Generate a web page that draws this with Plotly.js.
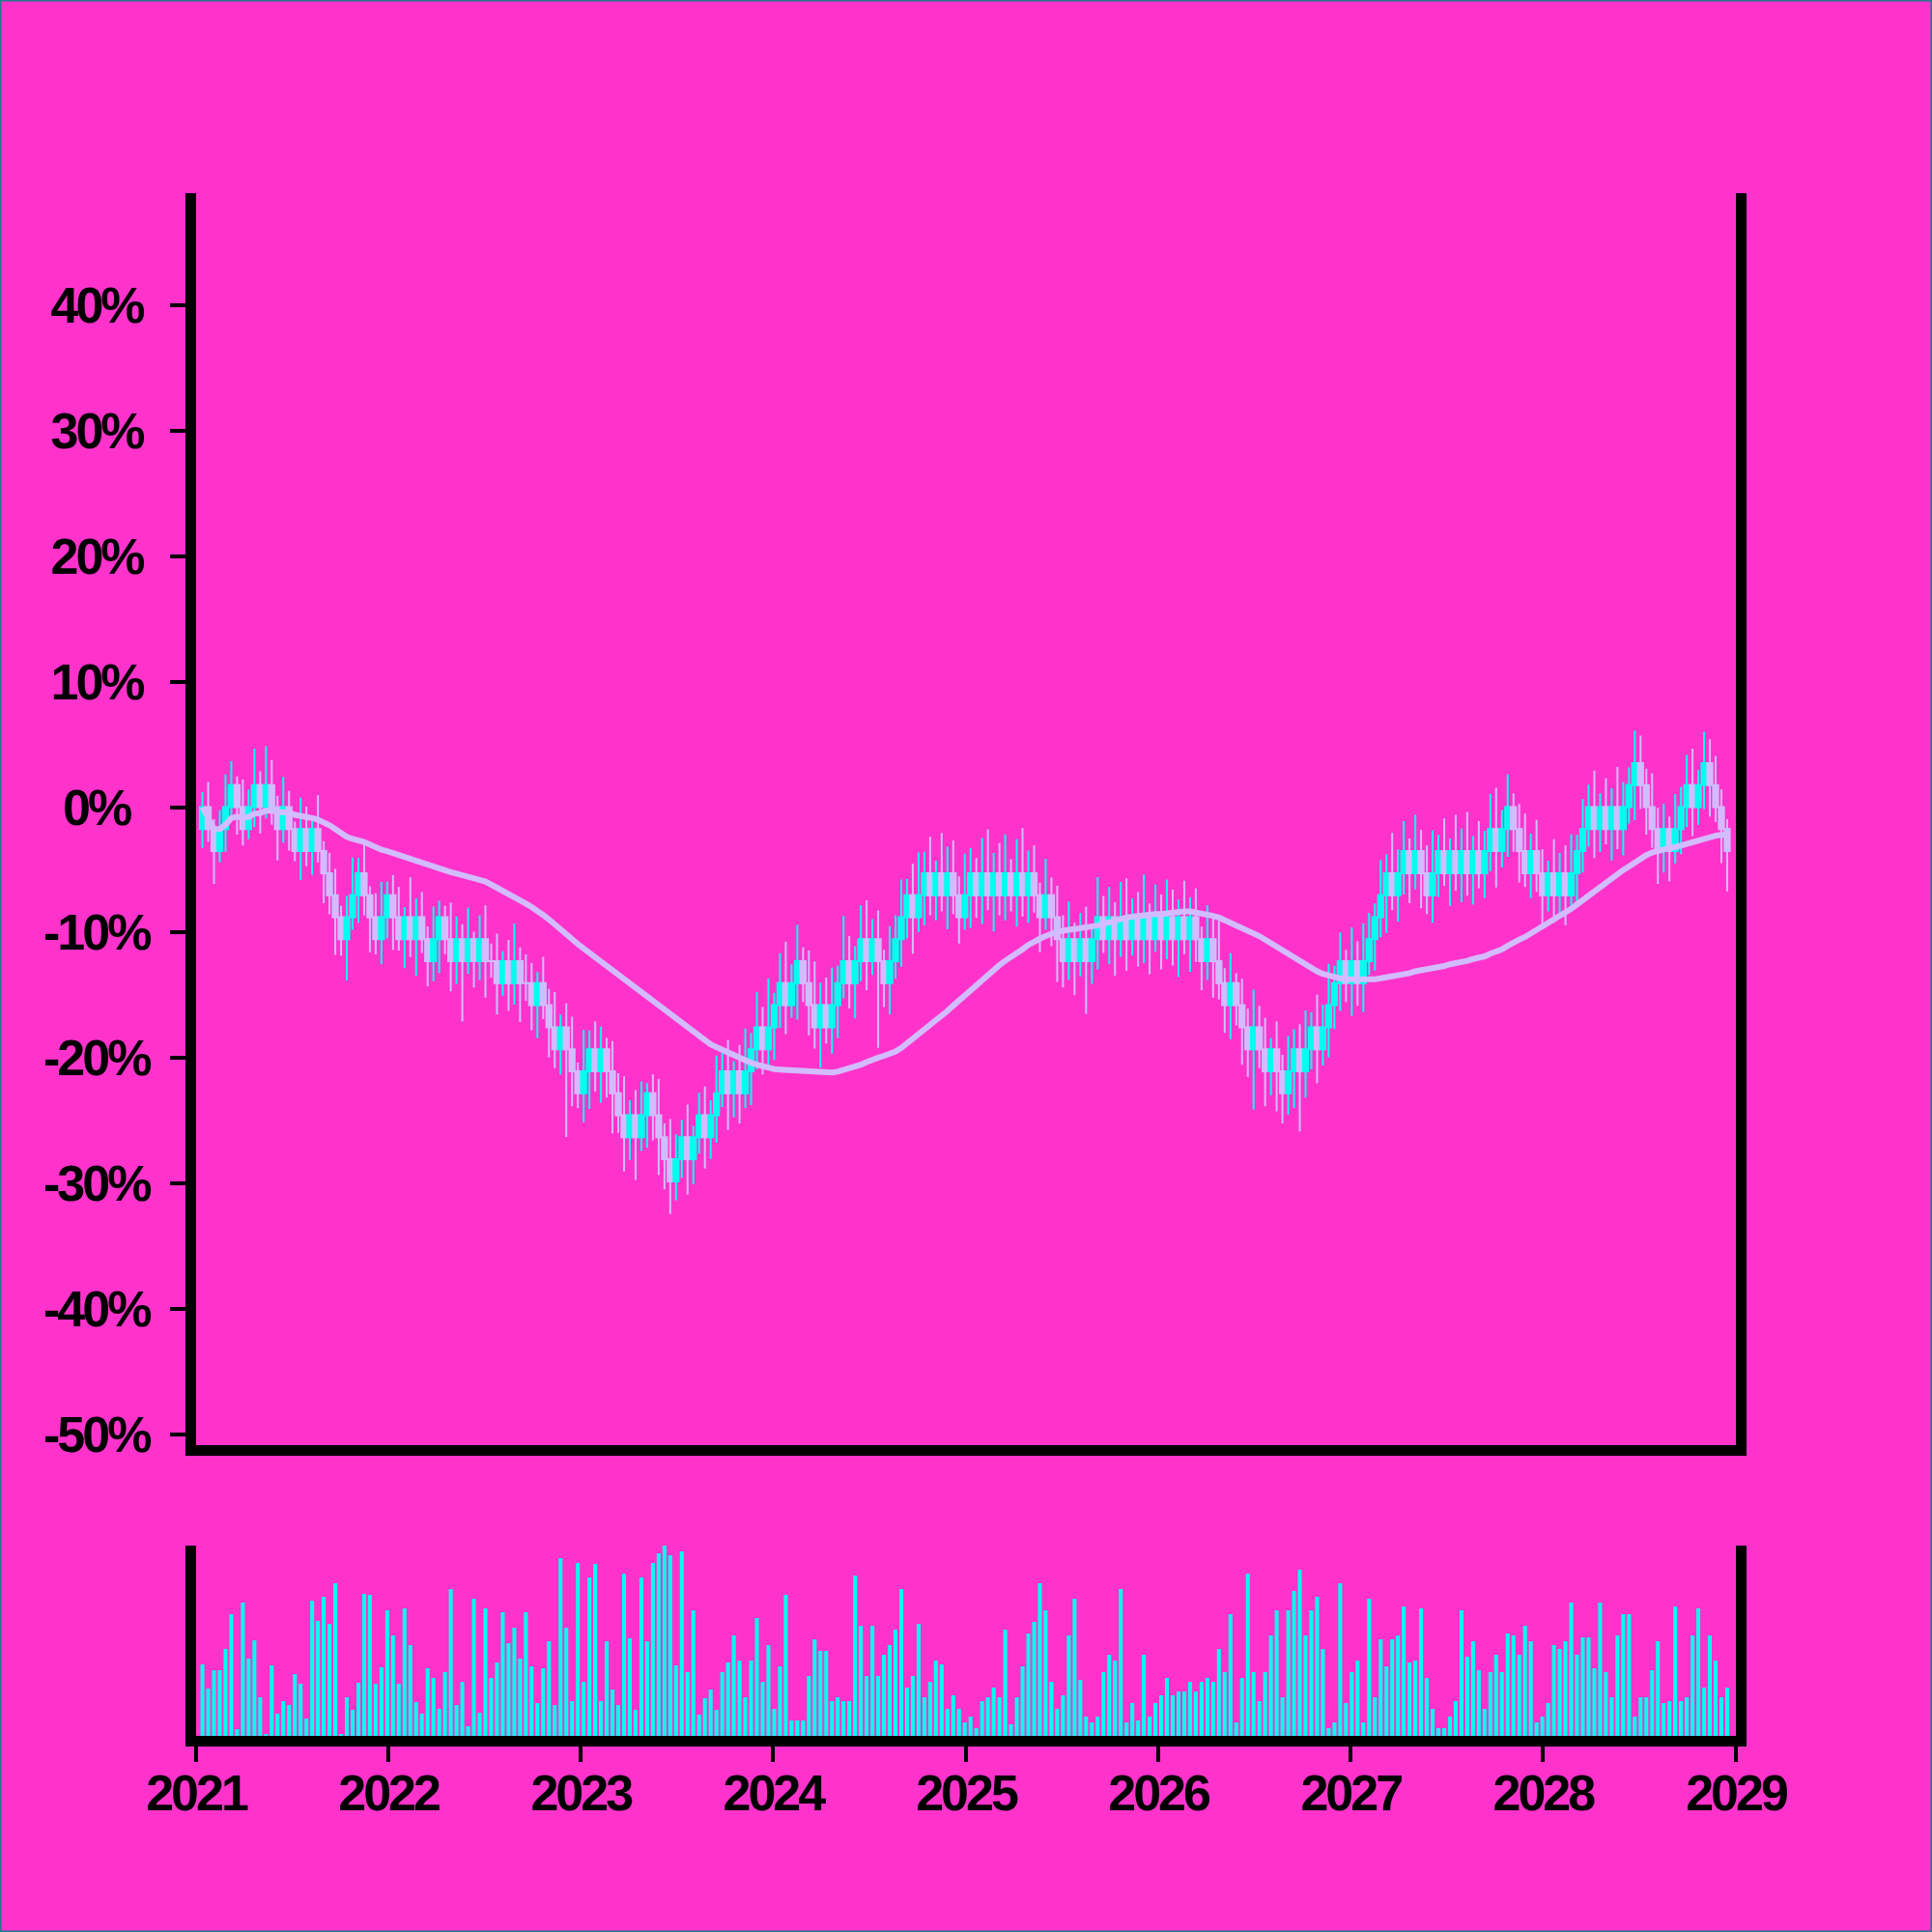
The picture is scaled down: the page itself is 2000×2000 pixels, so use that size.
<!DOCTYPE html>
<html>
<head>
<meta charset="utf-8">
<script src="https://cdn.plot.ly/plotly-3.0.1.min.js"></script>
<style>
html,body{margin:0;padding:0;background:#FF33CC;}
#chart{width:2000px;height:2000px;}
#chart g.xtick text, #chart g.x2tick text, #chart .annotation-text{letter-spacing:-3px;}
</style>
</head>
<body>
<div id="chart"></div>
<script>
// ---------------- DATA ----------------
const START_DATE = '2021-01-13';
const STEP_DAYS = 10.96;          // spacing between candles
const FIRST_OPEN_LEVEL = -1;      // open of the very first candle
const STEP_PCT = 100 / 57;        // one price tick, in percent

// close of each candle, in price ticks relative to the start
const closeLevel = [
  0,-1,-2,-1,0,1,0,-1,0,1,
  0,1,0,-1,0,-1,-2,-1,-2,-1,
  -2,-3,-4,-5,-6,-5,-4,-3,-4,-5,
  -6,-5,-4,-5,-6,-5,-6,-5,-6,-7,
  -6,-5,-6,-7,-6,-7,-6,-7,-6,-7,
  -7,-8,-7,-8,-7,-8,-8,-9,-8,-9,
  -10,-11,-10,-11,-12,-13,-12,-11,-12,-11,
  -12,-13,-14,-15,-14,-15,-14,-13,-14,-15,
  -16,-17,-16,-15,-16,-15,-14,-15,-14,-13,
  -12,-13,-12,-13,-12,-11,-10,-11,-10,-9,
  -8,-9,-8,-7,-8,-9,-10,-9,-10,-9,
  -8,-7,-8,-7,-6,-7,-6,-7,-8,-7,
  -6,-5,-4,-5,-4,-3,-4,-3,-4,-3,
  -4,-5,-4,-3,-4,-3,-4,-3,-4,-3,
  -4,-3,-4,-3,-4,-5,-4,-5,-6,-7,
  -6,-7,-6,-7,-6,-5,-6,-5,-6,-5,
  -6,-5,-6,-5,-6,-5,-6,-5,-6,-5,
  -6,-5,-6,-7,-6,-7,-8,-9,-8,-9,
  -10,-11,-10,-11,-12,-11,-12,-13,-12,-11,
  -12,-11,-10,-11,-10,-9,-8,-7,-8,-7,
  -8,-7,-6,-5,-4,-3,-4,-3,-2,-3,
  -2,-3,-4,-3,-2,-3,-2,-3,-2,-3,
  -2,-3,-2,-1,-2,-1,0,-1,-2,-3,
  -2,-3,-4,-3,-4,-3,-4,-3,-2,-1,
  0,-1,0,-1,0,-1,0,1,2,1,
  0,-1,-2,-1,-2,-1,0,1,0,1,
  2,1,0,-1,-2
];

// upper wick above the body, in percent
const upperWick = [
  1.2,2.0,0.8,1.5,2.6,1.9,0.7,2.2,1.4,2.9,
  1.1,3.1,2.0,0.9,2.4,1.3,0.6,2.5,1.8,1.0,
  2.7,0.8,1.6,2.1,0.9,1.7,3.0,1.2,2.3,0.7,
  1.9,2.8,1.1,1.6,2.4,0.8,3.2,1.5,2.0,1.0,
  2.6,1.3,0.9,2.9,1.8,1.2,2.5,0.6,1.9,2.7,
  1.4,2.2,0.8,1.7,3.0,1.1,2.3,1.6,0.9,2.1,
  1.3,2.8,1.0,1.9,2.6,0.7,3.3,1.5,2.2,1.8,
  0.9,2.4,1.6,3.1,1.2,2.0,2.7,0.8,1.5,2.9,
  1.1,3.2,2.0,1.4,2.6,0.9,1.8,2.3,1.2,3.0,
  1.7,2.5,0.8,2.1,3.4,1.3,2.8,1.6,3.9,1.0,
  2.4,3.3,1.5,2.9,1.1,2.6,3.5,1.8,2.2,3.0,
  1.4,3.6,2.0,1.2,2.7,3.1,1.6,2.3,0.9,2.8,
  1.9,3.0,1.3,2.5,3.4,1.7,2.9,1.0,3.2,2.1,
  2.6,1.5,3.3,2.0,1.2,2.8,3.5,1.6,2.4,3.1,
  1.1,2.7,3.6,1.8,2.2,1.0,2.9,1.4,2.5,1.9,
  3.0,1.3,2.1,2.6,0.9,3.2,1.7,2.4,1.2,2.8,
  3.1,1.5,2.0,3.4,1.1,2.6,1.8,3.0,2.2,1.4,
  2.9,1.6,2.3,1.0,2.7,1.9,3.2,1.2,2.4,0.8,
  2.1,1.5,3.0,1.7,2.5,0.9,2.2,1.3,2.8,1.6,
  2.0,3.1,1.2,2.6,1.8,3.3,1.4,2.3,0.9,2.7,
  1.6,3.0,2.1,1.1,2.8,1.5,3.2,1.9,2.4,1.0,
  2.9,1.7,2.2,3.4,1.3,2.6,1.0,2.9,1.8,3.1,
  1.2,2.4,1.6,2.8,3.3,1.5,2.6,1.1,2.0,3.0,
  1.4,2.5,1.9,1.0,2.7,1.6,2.2,3.1,1.3,2.4,
  1.8,2.9,1.1,2.3,1.5,3.2,2.0,1.4,2.6,2.2,
  1.3,2.7,1.7,2.0,1.0,2.8,1.6,2.4,2.9,1.2,
  2.5,1.9,2.3,1.4,0.8
];

// lower wick below the body, in percent
const lowerWick = [
  1.5,1.0,2.6,0.9,1.8,0.7,2.2,1.3,0.8,1.6,
  2.1,0.9,1.4,2.5,1.1,1.7,0.8,2.3,1.2,1.9,
  0.9,2.4,1.5,3.0,1.3,3.3,1.0,2.2,1.6,2.8,
  1.2,2.0,1.7,2.6,0.9,2.3,1.4,2.9,1.1,2.0,
  1.6,2.7,1.2,2.4,1.8,4.8,1.0,2.1,1.5,2.9,
  1.3,2.5,1.0,2.2,1.7,3.1,1.4,2.0,2.6,1.1,
  2.4,1.5,2.0,7.0,2.8,1.2,2.3,3.0,1.6,2.5,
  2.1,3.2,1.4,2.7,1.8,3.4,1.1,2.6,2.0,3.0,
  2.4,2.6,1.5,1.5,2.8,2.0,1.3,2.5,1.7,2.2,
  1.1,2.9,1.9,2.4,1.2,2.7,1.6,2.0,1.4,2.6,
  1.8,2.3,1.0,2.9,1.5,2.4,1.7,3.2,1.3,2.1,
  2.6,1.2,2.0,2.8,1.6,2.3,1.1,6.9,1.9,2.5,
  1.4,2.2,1.7,2.9,1.2,2.4,1.6,2.0,1.3,2.7,
  1.5,2.1,1.0,2.6,1.8,2.3,1.2,2.9,1.6,2.0,
  1.3,2.5,1.7,2.2,1.4,2.8,1.0,2.3,3.4,2.1,
  1.5,2.7,1.2,4.2,1.8,2.4,1.1,2.0,2.9,1.4,
  2.5,1.3,2.2,1.9,2.8,1.0,2.4,1.6,2.1,3.0,
  1.2,2.6,1.8,2.3,1.5,2.9,1.3,2.2,2.7,1.6,
  3.0,2.2,4.8,1.5,2.8,1.9,3.2,2.4,1.7,2.9,
  4.8,2.1,1.6,2.7,1.3,2.4,1.9,2.2,1.5,2.6,
  1.8,2.3,1.1,2.5,1.6,3.0,1.2,2.1,1.7,2.4,
  1.3,2.8,1.5,2.2,1.9,1.0,2.6,1.4,2.3,1.8,
  2.5,1.2,2.0,1.6,2.9,1.3,2.2,1.8,2.5,1.1,
  2.0,1.5,2.7,1.3,2.2,1.8,2.4,1.1,2.6,1.7,
  1.4,2.3,1.8,1.2,2.5,1.6,2.1,1.3,2.8,1.9,
  2.2,1.5,2.6,1.7,2.4,1.0,2.0,1.6,2.3,1.4,
  1.9,2.5,1.2,2.7,3.2
];

// traded volume of each candle (arbitrary units)
const volume = [
  37,24.5,34,34,45,63,3.5,69,40,49.5,
  20,1,36.5,11.5,18,16,32,27,9,70,
  59.5,72,58,79,1,20,13.5,27.5,73.5,73,
  27,35.5,65,52,27,66,47,17.5,11.5,35,
  30,14,33,76,16,28,5,71,12,66,
  30,38,64,48,56,40,64,36,17,
  35,49,16,92,56,18,89.5,28,82,89,18,
  49,24,16,84,50.5,13.5,82,49,89.5,94.5,
  99,93.5,36.5,95.5,33,65,11,19.5,24,13.5,
  33,38,52,
  39,20,39,61,28,47,14,36,73,8,
  8,8,31,50,44,44,18,20,18,18,
  83,57,31,57,31,42,47,55,76,25,
  31,58,20,28,39,37,14,21,14,7,
  10,4,18,20,25,20,55,6,20,36,
  53,59,79,65,28,14,21,52,71,29,
  10,7,10,33,42,39,76,7,17,8,
  42,10,17,21,30,21,23,23,28,23,
  28,30,28,45,33,63,7,30,84,33,
  18,33,52,65,20,65,75,86,52,65,
  72,45,4,7,79,17,33,39,7,71,
  20,50,36,50,52,67,38,39,66,30,
  14,4,4,10,18,65,41,49,34,14,
  33,42,33,53,52,42,57,49,7,10,
  17,47,45,49,69,42,51,51,35,69,
  33,20,52,63,63,10,20,20,34,49,
  17,18,67,18,20,52,66,25,52,39,
  20,25
];

const MA_WINDOW = 50;

const yTickVals = [-50,-40,-30,-20,-10,0,10,20,30,40];
const yTickText = ['-50%','-40%','-30%','-20%','-10%','0%','10%','20%','30%','40%'];
const xTickVals = ['2021-01-01','2022-01-01','2023-01-01','2024-01-01','2025-01-01','2026-01-01','2027-01-01','2028-01-01','2029-01-01'];
const xTickText = ['2021','2022','2023','2024','2025','2026','2027','2028','2029'];
const X_RANGE = ['2021-01-01','2029-01-01'];

// ---------------- STYLE ----------------
const BG = '#FF33CC';
const CYAN = '#00FFEE';
const LAV = '#D2BCFF';
const FONT = {family:'Liberation Sans, Arial, Helvetica, sans-serif', size:52, color:'#000000', weight:700};

// ---------------- BUILD ----------------
const n = closeLevel.length;
const t0 = Date.parse(START_DATE + 'T00:00:00Z');
const dates = [], open = [], close = [], high = [], low = [];
for (let i = 0; i < n; i++) {
  const d = new Date(t0 + i * STEP_DAYS * 86400000);
  dates.push(d.toISOString().slice(0,19).replace('T',' '));
  const o = (i === 0 ? FIRST_OPEN_LEVEL : closeLevel[i-1]) * STEP_PCT;
  const c = closeLevel[i] * STEP_PCT;
  open.push(o); close.push(c);
  high.push(Math.max(o,c) + upperWick[i]);
  low.push(Math.min(o,c) - lowerWick[i]);
}
const ma = [];
for (let i = 0; i < n; i++) {
  const s = Math.max(0, i - MA_WINDOW + 1);
  let sum = 0;
  for (let j = s; j <= i; j++) sum += close[j];
  ma.push(sum / (i - s + 1));
}

const traces = [
  {
    type:'candlestick', x:dates, open:open, high:high, low:low, close:close,
    xaxis:'x', yaxis:'y', whiskerwidth:0, hoverinfo:'skip', showlegend:false,
    increasing:{line:{color:CYAN, width:2}, fillcolor:CYAN},
    decreasing:{line:{color:LAV, width:2}, fillcolor:LAV}
  },
  {
    type:'scatter', mode:'lines', x:dates, y:ma, xaxis:'x', yaxis:'y',
    line:{color:LAV, width:6}, hoverinfo:'skip', showlegend:false
  },
  {
    type:'bar', x:dates, y:volume, xaxis:'x2', yaxis:'y2',
    marker:{color:CYAN, line:{width:0}}, hoverinfo:'skip', showlegend:false
  }
];

const L = 203, R = 203, T = 200, B = 203;
const plotH = 2000 - T - B, plotW = 2000 - L - R;
const mainBottomPx = 1496, volTopPx = 1600;
const yLabelCenterPx = 100;   // tick labels are centred in the left margin

const yLabels = yTickVals.map((v, k) => ({
  xref:'paper', yref:'y', x:(yLabelCenterPx - L)/plotW, y:v,
  xanchor:'center', yanchor:'middle', showarrow:false,
  text:yTickText[k], font:FONT
}));

const layout = {
  width:2000, height:2000,
  paper_bgcolor:BG, plot_bgcolor:BG,
  margin:{l:L, r:R, t:T, b:B, pad:0},
  showlegend:false,
  boxgap:0.12, boxgroupgap:0,
  bargap:0.33,
  font:FONT,
  xaxis:{
    type:'date', domain:[0,1], anchor:'y', range:X_RANGE,
    showline:true, linecolor:'#000', linewidth:11, mirror:false,
    ticks:'', showticklabels:false, showgrid:false, zeroline:false,
    rangeslider:{visible:false}, fixedrange:true
  },
  yaxis:{
    domain:[(2000 - B - mainBottomPx)/plotH, 1], anchor:'x',
    range:[-50.85, 48.93],
    tickmode:'array', tickvals:yTickVals, ticktext:yTickText, showticklabels:false,
    ticks:'outside', ticklen:16, tickwidth:4, tickcolor:'#000',
    showline:true, mirror:true, linecolor:'#000', linewidth:11,
    showgrid:false, zeroline:false, fixedrange:true
  },
  xaxis2:{
    type:'date', domain:[0,1], anchor:'y2', range:X_RANGE,
    tickmode:'array', tickvals:xTickVals, ticktext:xTickText,
    ticks:'outside', ticklen:16, tickwidth:4, tickcolor:'#000',
    ticklabelstandoff:-12,
    showline:true, linecolor:'#000', linewidth:11,
    showgrid:false, zeroline:false, tickfont:FONT, fixedrange:true
  },
  yaxis2:{
    domain:[0, (2000 - B - volTopPx)/plotH], anchor:'x2',
    range:[0, 98.5],
    showline:true, mirror:true, linecolor:'#000', linewidth:11,
    ticks:'', showticklabels:false, showgrid:false, zeroline:false, fixedrange:true
  },
  annotations:yLabels,
  shapes:[{
    type:'rect', xref:'paper', yref:'paper', layer:'above',
    x0:-L/plotW, x1:1 + R/plotW, y0:-B/plotH, y1:1 + T/plotH,
    line:{color:'#1F7A8C', width:3}, fillcolor:'rgba(0,0,0,0)'
  }]
};

Plotly.newPlot('chart', traces, layout, {staticPlot:true, displayModeBar:false});
</script>
</body>
</html>
